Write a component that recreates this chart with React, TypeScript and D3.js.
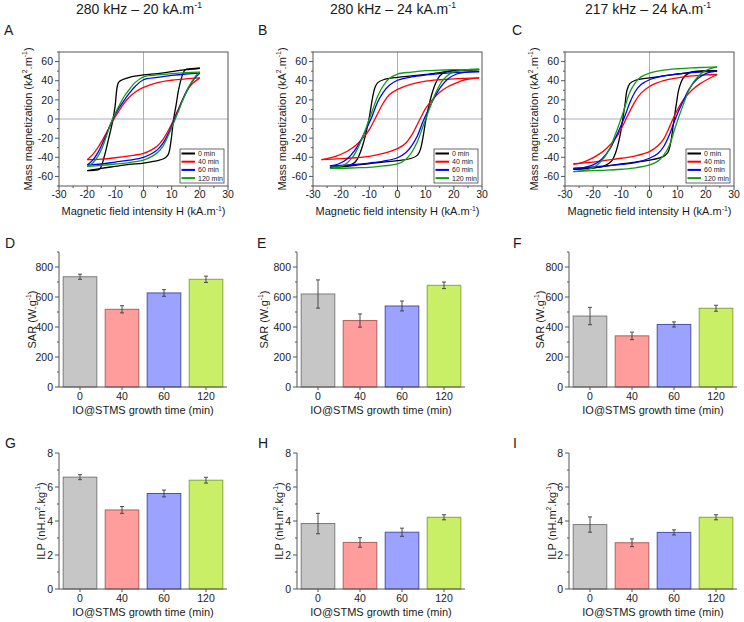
import React from "react";
import * as d3 from "d3";

// ---------- categories & labels ----------
const seriesNames = ["0 min", "40 min", "60 min", "120 min"];
const growthTimes = ["0", "40", "60", "120"];
const lineColors = ["#000000", "#ff0000", "#0000ff", "#139a13"];
const barFills = ["#c6c6c6", "#ff9c9c", "#9ca2ff", "#c9ef66"];
const barStrokes = ["#7c7c7c", "#b06060", "#4a50a8", "#84a83a"];
const hTicks = [-30, -20, -10, 0, 10, 20, 30];
const mTicks = [-60, -40, -20, 0, 20, 40, 60];
const sarTicks = [0, 200, 400, 600, 800];
const ilpTicks = [0, 2, 4, 6, 8];

// ---------- hysteresis loops [H, M] : upper (descending) and lower (ascending) ----------
// Panel A : 280 kHz – 20 kA/m
const a0Up = [[20,53],[15,51.5],[10,49.5],[5,47.5],[0,46],[-5,43.5],[-7.5,41],[-8.9,38],[-10.1,13],[-11,-3],[-12.5,-22],[-14,-40],[-15.5,-52],[-17,-53.5],[-20,-54]];
const a0Lo = [[-20,-54],[-15,-51.5],[-10,-49.5],[-5,-47.5],[0,-46],[5,-43.5],[7.5,-41],[8.8,-37],[9.8,-22],[10.7,0],[11.6,15],[12.4,29.6],[13.6,44],[14.8,51.5],[17,52.5],[20,53]];
const a40Up = [[20,43],[15,42],[10,40.5],[5,38],[0,33],[-3,28],[-5,23],[-7,16],[-9,7],[-10.5,0],[-12,-8],[-14,-19],[-16,-29],[-18,-37],[-20,-42.5]];
const a40Lo = [[-20,-42.5],[-15,-42],[-10,-40.5],[-5,-38.5],[0,-36],[3,-32],[5,-28],[7,-21],[9,-11],[10.5,-2],[12,8],[13.5,18],[15,27],[17,36],[20,43]];
const a60Up = [[20,48],[15,47],[10,45.5],[5,43.5],[0,41],[-3,34],[-5,27],[-7,19],[-9,10],[-11,-1],[-12.5,-11],[-14,-22],[-16,-34],[-18,-43],[-20,-48]];
const a60Lo = [[-20,-48],[-15,-47],[-10,-45],[-5,-43],[0,-40],[3,-36],[5,-32],[7,-25],[9,-14],[11,0],[12.5,10],[14,21],[16,33],[18,42],[20,48]];
const a120Up = [[20,49],[15,48.5],[10,47.5],[5,46],[0,44],[-3,38],[-5,31],[-7,23],[-9,12],[-11,0],[-12.5,-12],[-14,-25],[-16,-38],[-18,-46],[-20,-49.5]];
const a120Lo = [[-20,-49.5],[-15,-48.5],[-10,-47],[-5,-45.5],[0,-43],[3,-39],[5,-35],[7,-28],[9,-16],[11,-2],[12.5,9],[14,20],[16,33],[18,43],[20,49]];

// Panel B : 280 kHz – 24 kA/m
const b0Up = [[29,51.5],[24,51],[20,50.5],[16,49],[10,46.5],[5,45],[0,43.5],[-5,41],[-7,38],[-8,33],[-9,20],[-10,2],[-11,-12],[-12,-24],[-13.5,-37],[-15,-45],[-17,-48.5],[-20,-49.5],[-24,-50.5]];
const b0Lo = [[-24,-50.5],[-20,-50],[-15,-48.5],[-10,-46.5],[-5,-45],[0,-43.5],[5,-41],[7,-38],[8,-33],[9,-20],[10,-2],[11,12],[12,24],[13.5,37],[15,45],[17,49],[20,50.5],[24,51],[29,51.5]];
const b40Up = [[29,43],[24,42.5],[20,42],[15,41],[10,39.5],[5,36.5],[0,31],[-3,25],[-5,17],[-8,0],[-10,-11],[-12,-19],[-15,-28],[-18,-34],[-22,-39],[-27,-42.5]];
const b40Lo = [[-27,-42.5],[-20,-41.5],[-15,-40.5],[-10,-39],[-5,-36],[0,-31],[3,-25],[5,-17],[8,0],[10,11],[12,19],[15,28],[18,34],[22,39],[24,41],[29,43]];
const b60Up = [[29,49.5],[24,49],[20,48.5],[15,47.5],[10,46],[5,44],[0,40.5],[-3,35],[-5,28],[-7,18],[-9,3],[-11,-10],[-13,-22],[-15,-32],[-18,-42],[-21,-47],[-24,-49]];
const b60Lo = [[-24,-49],[-20,-48.5],[-15,-47.5],[-10,-46],[-5,-44],[0,-40.5],[3,-35],[5,-28],[7,-18],[9,-3],[11,10],[13,22],[15,32],[18,42],[21,47],[24,48.8],[29,49.5]];
const b120Up = [[29,52],[24,51.5],[20,51.5],[15,51],[10,50.5],[5,49],[0,47],[-3,42],[-5,35],[-7,24],[-9,8],[-10.5,-4],[-12,-16],[-14,-30],[-16,-40],[-19,-48],[-24,-51.5]];
const b120Lo = [[-24,-51.5],[-20,-51.5],[-15,-51],[-10,-50.5],[-5,-49],[0,-47],[3,-42],[5,-35],[7,-24],[9,-8],[10.5,4],[12,16],[14,30],[16,40],[19,48],[24,51.3],[29,52]];

// Panel C : 217 kHz – 24 kA/m
const c0Up = [[24,50.5],[20,50],[15,49],[10,47],[5,45],[0,43],[-5,40.5],[-7,37],[-8,30],[-8.7,15],[-9.5,0],[-10.5,-18],[-12,-35],[-13.5,-44],[-16,-49],[-20,-51],[-24,-52],[-27,-52.5]];
const c0Lo = [[-27,-52.5],[-24,-52],[-20,-51],[-15,-49],[-10,-47],[-5,-45],[0,-43],[5,-39],[6.5,-35],[7.5,-25],[8.5,-5],[9.5,15],[10.5,32],[12,43],[14,48],[17,50],[20,50.3],[24,50.5]];
const c40Up = [[24,46.5],[20,46],[15,45],[10,43],[5,40],[0,34],[-3,27],[-5,19],[-7,8],[-8,2],[-10,-10],[-12,-20],[-15,-30],[-18,-37],[-21,-42],[-24,-45.5],[-27,-47]];
const c40Lo = [[-27,-47],[-24,-46],[-20,-45],[-15,-43],[-10,-41],[-5,-38.5],[0,-34],[3,-28],[5,-21],[7,-9],[8,-2],[10,10],[12,20],[15,30],[18,37],[21,42],[24,46.5]];
const c60Up = [[24,50],[20,49.5],[15,48.5],[10,47],[5,45],[0,41],[-3,36],[-5,29],[-7,17],[-8.5,5],[-10,-6],[-12,-19],[-14,-31],[-17,-42],[-20,-48],[-24,-51],[-27,-51.5]];
const c60Lo = [[-27,-51.5],[-24,-51],[-20,-50],[-15,-49],[-10,-47.5],[-5,-45.5],[0,-41],[3,-36],[5,-29],[7,-17],[8.5,-5],[10,6],[12,19],[14,31],[17,42],[20,47.5],[24,50]];
const c120Up = [[24,54.5],[20,54],[15,53.5],[10,52.5],[5,51],[0,48],[-3,44],[-5,38],[-7,28],[-9,10],[-10.5,-3],[-12,-15],[-14,-30],[-16,-40],[-19,-49],[-22,-53],[-24,-54.3],[-27,-55]];
const c120Lo = [[-27,-55],[-24,-54.5],[-20,-54],[-15,-53.5],[-10,-52.5],[-5,-51],[0,-48],[3,-44],[5,-38],[7,-28],[9,-10],[10.5,3],[12,15],[14,30],[16,40],[19,49],[22,53],[24,54.5]];

// ---------- bar values ----------
const sarD = [735, 518, 627, 718];
const sarDErr = [17, 24, 22, 21];
const sarE = [620, 443, 540, 678];
const sarEErr = [94, 44, 33, 22];
const sarF = [473, 341, 417, 525];
const sarFErr = [58, 25, 17, 20];
const ilpG = [6.58, 4.65, 5.62, 6.4];
const ilpGErr = [0.15, 0.2, 0.2, 0.17];
const ilpH = [3.85, 2.74, 3.34, 4.22];
const ilpHErr = [0.6, 0.28, 0.24, 0.15];
const ilpI = [3.79, 2.72, 3.33, 4.22];
const ilpIErr = [0.45, 0.23, 0.15, 0.15];

const FONT = "'Liberation Sans', Arial, Helvetica, sans-serif";
const TXT = "#1a1a1a";

type Part = [string, boolean];
function Rich({ parts, fs, ...rest }: any) {
  let prevSup = false;
  const spans = (parts as Part[]).map(([t, sup], i) => {
    let dy: number | undefined;
    if (sup && !prevSup) dy = -fs * 0.4;
    if (!sup && prevSup) dy = fs * 0.4;
    prevSup = sup;
    return (
      <tspan key={i} dy={dy} fontSize={sup ? fs * 0.62 : fs}>
        {t}
      </tspan>
    );
  });
  return (
    <text fontSize={fs} fill={TXT} fontFamily={FONT} {...rest}>
      {spans}
    </text>
  );
}

const magLabel: Part[] = [["Mass magnetization (kA", false], ["2", true], [".m", false], ["-1", true], [")", false]];
const fieldLabel: Part[] = [["Magnetic field intensity H (kA.m", false], ["-1", true], [")", false]];
const sarLabel: Part[] = [["SAR (W.g", false], ["-1", true], [")", false]];
const ilpLabel: Part[] = [["ILP (nH.m", false], ["2", true], [".kg", false], ["-1", true], [")", false]];

function Hyst({ left, loops, letter, letterX, title, titleX }: any) {
  const W = 169;
  const top = 52;
  const bottom = 186;
  const x = d3.scaleLinear().domain([-30, 30]).range([left, left + W]);
  const y = d3.scaleLinear().domain([-70, 70]).range([bottom, top]);
  const line = d3
    .line<number[]>()
    .x((d) => x(d[0]))
    .y((d) => y(d[1]))
    .curve(d3.curveCatmullRom.alpha(0.5));
  const minorH = d3.range(-30, 31, 5).filter((v) => v % 10 !== 0);
  const minorM = d3.range(-70, 71, 10).filter((v) => v % 20 !== 0);
  const lgR = left + W - 4;
  const lgW = 44;
  const lgB = bottom - 3;
  const lgH = 34;
  return (
    <g>
      <Rich parts={title} fs={14} x={titleX} y={14} textAnchor="middle" />
      <text x={letterX} y={35} fontSize={14} fill={TXT} fontFamily={FONT}>{letter}</text>
      {/* zero lines */}
      <line x1={x(0)} x2={x(0)} y1={top} y2={bottom} stroke="#a9afc6" strokeWidth={1} />
      <line x1={left} x2={left + W} y1={y(0)} y2={y(0)} stroke="#a9afc6" strokeWidth={1} />
      {loops.map((lp: any, i: number) => (
        <g key={i}>
          <path d={line(lp[0]) || ""} fill="none" stroke={lineColors[i]} strokeWidth={1.3} />
          <path d={line(lp[1]) || ""} fill="none" stroke={lineColors[i]} strokeWidth={1.3} />
        </g>
      ))}
      {/* frame */}
      <rect x={left} y={top} width={W} height={bottom - top} fill="none" stroke="#555" strokeWidth={1} />
      {hTicks.map((t) => (
        <g key={"h" + t}>
          <line x1={x(t)} x2={x(t)} y1={bottom} y2={bottom + 4} stroke="#555" />
          <text x={x(t)} y={198} fontSize={10.5} textAnchor="middle" fill={TXT} fontFamily={FONT}>{t}</text>
        </g>
      ))}
      {minorH.map((t) => (
        <line key={"hm" + t} x1={x(t)} x2={x(t)} y1={bottom} y2={bottom + 2} stroke="#555" />
      ))}
      {mTicks.map((t) => (
        <g key={"m" + t}>
          <line x1={left - 4} x2={left} y1={y(t)} y2={y(t)} stroke="#555" />
          <text x={left - 6} y={y(t)} dy="0.35em" fontSize={10.5} textAnchor="end" fill={TXT} fontFamily={FONT}>{t}</text>
        </g>
      ))}
      {minorM.map((t) => (
        <line key={"mm" + t} x1={left - 2} x2={left} y1={y(t)} y2={y(t)} stroke="#555" />
      ))}
      <Rich parts={magLabel} fs={11} x={0} y={0} textAnchor="middle" dominantBaseline="central"
        transform={`translate(${left - 31},${(top + bottom) / 2}) rotate(-90)`} />
      <Rich parts={fieldLabel} fs={11} x={left + W / 2} y={215} textAnchor="middle" />
      {/* legend */}
      <rect x={lgR - lgW} y={lgB - lgH} width={lgW} height={lgH} fill="#fff" stroke="#444" strokeWidth={0.8} />
      {seriesNames.map((s, i) => {
        const yy = lgB - lgH + 4.5 + i * 8.2;
        return (
          <g key={s}>
            <line x1={lgR - lgW + 1.5} x2={lgR - lgW + 15} y1={yy} y2={yy} stroke={lineColors[i]} strokeWidth={2} />
            <text x={lgR - lgW + 18} y={yy} dy="0.35em" fontSize={7} fill={TXT} fontFamily={FONT}>{s}</text>
          </g>
        );
      })}
    </g>
  );
}

function Bars({ left, y0, yTop, max, ticks, minorStep, values, errors, letter, letterX, letterY, ylabel, ylabX }: any) {
  const W = 168;
  const x = d3.scaleBand().domain(growthTimes).range([left, left + W]).paddingInner(0.2).paddingOuter(0.1);
  const y = d3.scaleLinear().domain([0, max]).range([y0, yTop]);
  const minor = d3.range(0, max + 1e-9, minorStep).filter((v) => !ticks.some((t: number) => Math.abs(t - v) < 1e-9));
  const axisTop = y(max);
  return (
    <g>
      <text x={letterX} y={letterY} fontSize={14} fill={TXT} fontFamily={FONT}>{letter}</text>
      {growthTimes.map((g, i) => {
        const bx = x(g)!;
        const bw = x.bandwidth();
        const v = values[i];
        const e = errors[i];
        const cx = bx + bw / 2;
        return (
          <g key={g}>
            <rect x={bx} y={y(v)} width={bw} height={y0 - y(v)} fill={barFills[i]} stroke={barStrokes[i]} strokeWidth={1} />
            <line x1={cx} x2={cx} y1={y(v + e)} y2={y(v - e)} stroke="#3a3a3a" strokeWidth={0.9} />
            <line x1={cx - 2} x2={cx + 2} y1={y(v + e)} y2={y(v + e)} stroke="#3a3a3a" strokeWidth={0.9} />
            <line x1={cx - 2} x2={cx + 2} y1={y(v - e)} y2={y(v - e)} stroke="#3a3a3a" strokeWidth={0.9} />
            <line x1={cx} x2={cx} y1={y0} y2={y0 + 3} stroke="#555" />
            <text x={cx} y={y0 + 13} fontSize={10.5} textAnchor="middle" fill={TXT} fontFamily={FONT}>{g}</text>
          </g>
        );
      })}
      <line x1={left} x2={left} y1={axisTop} y2={y0} stroke="#555" />
      <line x1={left} x2={left + W} y1={y0} y2={y0} stroke="#555" />
      {ticks.map((t: number) => (
        <g key={t}>
          <line x1={left - 4} x2={left} y1={y(t)} y2={y(t)} stroke="#555" />
          <text x={left - 6} y={y(t)} dy="0.35em" fontSize={10.5} textAnchor="end" fill={TXT} fontFamily={FONT}>{t}</text>
        </g>
      ))}
      {minor.map((t: number) => (
        <line key={"m" + t} x1={left - 2} x2={left} y1={y(t)} y2={y(t)} stroke="#555" />
      ))}
      <Rich parts={ylabel} fs={11} x={0} y={0} textAnchor="middle" dominantBaseline="central"
        transform={`translate(${ylabX},${(axisTop + y0) / 2}) rotate(-90)`} />
      <text x={left + W / 2} y={y0 + 27} fontSize={11} textAnchor="middle" fill={TXT} fontFamily={FONT}>
        IO@STMS growth time (min)
      </text>
    </g>
  );
}

const titleA: Part[] = [["280 kHz – 20 kA.m", false], ["-1", true]];
const titleB: Part[] = [["280 kHz – 24 kA.m", false], ["-1", true]];
const titleC: Part[] = [["217 kHz – 24 kA.m", false], ["-1", true]];

export default function App() {
  const loopsA = [[a0Up, a0Lo], [a40Up, a40Lo], [a60Up, a60Lo], [a120Up, a120Lo]];
  const loopsB = [[b0Up, b0Lo], [b40Up, b40Lo], [b60Up, b60Lo], [b120Up, b120Lo]];
  const loopsC = [[c0Up, c0Lo], [c40Up, c40Lo], [c60Up, c60Lo], [c120Up, c120Lo]];
  return (
    <div style={{ position: "absolute", left: 0, top: 0 }}>
      <svg width={744} height={622} style={{ display: "block", background: "#fff" }}>
        <Hyst left={59} loops={loopsA} letter="A" letterX={4} title={titleA} titleX={139} />
        <Hyst left={313} loops={loopsB} letter="B" letterX={258} title={titleB} titleX={393} />
        <Hyst left={565} loops={loopsC} letter="C" letterX={512} title={titleC} titleX={648} />

        <Bars left={59} y0={387} yTop={252} max={900} ticks={sarTicks} minorStep={100} values={sarD} errors={sarDErr}
          letter="D" letterX={5} letterY={248} ylabel={sarLabel} ylabX={32} />
        <Bars left={297} y0={387} yTop={252} max={900} ticks={sarTicks} minorStep={100} values={sarE} errors={sarEErr}
          letter="E" letterX={257} letterY={248} ylabel={sarLabel} ylabX={264} />
        <Bars left={569} y0={387} yTop={252} max={900} ticks={sarTicks} minorStep={100} values={sarF} errors={sarFErr}
          letter="F" letterX={513} letterY={248} ylabel={sarLabel} ylabX={540} />

        <Bars left={59} y0={589} yTop={453} max={8} ticks={ilpTicks} minorStep={1} values={ilpG} errors={ilpGErr}
          letter="G" letterX={5} letterY={448} ylabel={ilpLabel} ylabX={41} />
        <Bars left={297} y0={589} yTop={453} max={8} ticks={ilpTicks} minorStep={1} values={ilpH} errors={ilpHErr}
          letter="H" letterX={258} letterY={448} ylabel={ilpLabel} ylabX={279} />
        <Bars left={569} y0={589} yTop={453} max={8} ticks={ilpTicks} minorStep={1} values={ilpI} errors={ilpIErr}
          letter="I" letterX={513} letterY={448} ylabel={ilpLabel} ylabX={552} />
      </svg>
    </div>
  );
}
